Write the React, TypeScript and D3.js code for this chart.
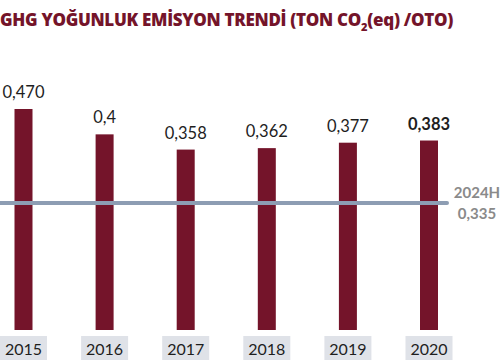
import * as d3 from "d3";

const YEARS = ["2015", "2016", "2017", "2018", "2019", "2020"];
const VALUES = [0.47, 0.4, 0.358, 0.362, 0.377, 0.383];
const VALUE_LABELS = ["0,470", "0,4", "0,358", "0,362", "0,377", "0,383"];
const TARGET_LABELS = ["2024H", "0,335"];

const W = 502;
const H = 363;
const BASE = 330;
const TOP = 109;
const BAR_W = 18;
const MAROON = "#74142a";
const FONT = "Lato, 'Open Sans', sans-serif";
// horizontal rule is drawn as a layout guide, not to value scale (as in the source)
const TARGET_Y = 203;

export default function App() {
  const x = d3.scalePoint<string>().domain(YEARS).range([23.5, 429]);
  // source bars are not zero-based; fitted domain keeps their heights close
  const y = d3.scaleLinear().domain([-0.14, 0.47]).range([BASE, TOP]);

  return (
    <svg
      width={W}
      height={H}
      style={{ position: "absolute", left: 0, top: 0, background: "#fff" }}
      fontFamily={FONT}
    >
      <text x={0} y={26} fill={MAROON} fontSize={17} fontWeight={800} fontFamily="'Open Sans', sans-serif" letterSpacing={-0.3}>
        GHG YOĞUNLUK EMİSYON TRENDİ (TON CO<tspan fontSize={11} dy={5}>2</tspan><tspan dy={-5}>(eq) /OTO)</tspan>
      </text>

      {YEARS.map((yr, i) => {
        const cx = x(yr)!;
        return (
          <g key={yr}>
            <rect x={cx - BAR_W / 2} y={y(VALUES[i])} width={BAR_W} height={BASE - y(VALUES[i])} fill={MAROON} />
            <text
              x={cx}
              y={y(VALUES[i]) - 11}
              textAnchor="middle"
              fontSize={16.5}
              fill="#1e1e1e"
              fontWeight={i === YEARS.length - 1 ? 700 : 400}
            >
              {VALUE_LABELS[i]}
            </text>
            <rect x={cx - 23.5} y={336} width={47} height={24} fill="#dfe2e8" />
            <text x={cx} y={355} textAnchor="middle" fontSize={16} fill="#1e1e1e">
              {yr}
            </text>
          </g>
        );
      })}

      <line x1={0} x2={447} y1={TARGET_Y} y2={TARGET_Y} stroke="#8d9db3" strokeWidth={4} strokeLinecap="round" />
      <text x={477} y={198} textAnchor="middle" fontSize={15} fontWeight={700} fill="#8a8a8a">
        {TARGET_LABELS[0]}
      </text>
      <text x={477} y={219} textAnchor="middle" fontSize={15} fontWeight={700} fill="#8a8a8a">
        {TARGET_LABELS[1]}
      </text>
    </svg>
  );
}
